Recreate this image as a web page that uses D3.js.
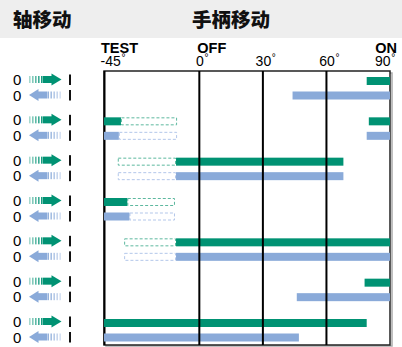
<!DOCTYPE html>
<html>
<head>
<meta charset="utf-8">
<script src="https://cdn.jsdelivr.net/npm/d3@7"></script>
<style>
  body { margin: 0; background: #fff; }
  svg { display: block; font-family: "Liberation Sans", Arial, sans-serif; }
</style>
</head>
<body>
<svg id="chart" width="402" height="347"></svg>
<script>
// rows (7 groups, each a green "up" bar and a blue "down" bar)
var rows = [0, 1, 2, 3, 4, 5, 6]
var tickValues = [-45, 0, 30, 60, 90]
var tickNames = ["TEST", "OFF", "", "", "ON"]
var headers = ["轴移动", "手柄移动"]

// solid segments in degrees: [row, from, to]
var greenSolid = [[0, 79, 90], [1, -45, -37], [1, 80, 90], [2, -11, 68], [3, -45, -34], [4, -11, 90], [5, 78, 90], [6, -45, 79]]
var blueSolid = [[0, 44, 90], [1, -45, -38], [1, 79, 90], [2, -11, 68], [3, -45, -33], [4, -11, 90], [5, 46, 90], [6, -45, 47]]
// dashed (outlined) segments
var greenDashed = [[1, -37, -10.5], [2, -38.5, -11], [3, -34, -11.5], [4, -35.5, -11]]
var blueDashed = [[1, -38, -10.5], [2, -38.5, -11], [3, -33, -11.5], [4, -35.5, -11]]

var GREEN = "#009273", BLUE = "#8aaad9"
var GREEN_L = "#5db89f", BLUE_L = "#b3c7ea"

var svg = d3.select("#chart")

var x = d3.scaleLinear().domain([-45, 90]).range([104, 390])
var y = d3.scaleLinear().domain([0, 6]).range([88.25, 330.25])
var barH = 8

// header band
svg.append("rect").attr("x", 0).attr("y", 0).attr("width", 402).attr("height", 38).attr("fill", "#eeeeee")
svg.selectAll("text.hdr").data(headers).enter().append("text")
  .attr("class", "hdr")
  .attr("x", function(d, i){ return i == 0 ? 13 : 192 })
  .attr("y", 27)
  .attr("font-family", "'Noto Sans CJK SC', sans-serif")
  .attr("font-weight", 900)
  .attr("font-size", "19.5px")
  .attr("fill", "#111")
  .text(function(d){ return d })

// frame shadow + frame
svg.append("rect").attr("x", 106).attr("y", 73).attr("width", 286).attr("height", 273).attr("fill", "none").attr("stroke", "#aaa").attr("stroke-width", 1.5)
svg.append("rect").attr("x", 104).attr("y", 71).attr("width", 286).attr("height", 274).attr("fill", "#fff").attr("stroke", "#222").attr("stroke-width", 1.5)
svg.append("line").attr("x1", 104.5).attr("x2", 104.5).attr("y1", 71).attr("y2", 345).attr("stroke", "#000").attr("stroke-width", 2)

// axis labels (degrees)
var axisG = svg.append("g").attr("transform", "translate(0,65.5)")
axisG.call(d3.axisTop(x).tickValues(tickValues).tickSize(0).tickPadding(0).tickFormat(function(d){ return d }))
axisG.select(".domain").remove()
axisG.selectAll(".tick text")
  .style("font-family", "'Liberation Sans', Arial, sans-serif")
  .style("font-size", "14px")
  .attr("fill", "#000")
  .attr("dy", 0)
axisG.selectAll(".tick").each(function(d, i){
  var t = d3.select(this).select("text")
  if(i == 0){ t.attr("text-anchor", "start").attr("x", -4) }
  if(i == tickValues.length - 1){ t.attr("text-anchor", "end").attr("x", 0) }
  var bb = t.node().getBBox()
  d3.select(this).append("text")
    .attr("x", bb.x + bb.width + 0.5)
    .attr("y", -5)
    .style("font-size", "10px")
    .attr("fill", "#000")
    .attr("text-anchor", "start")
    .text("°")
})
// shift last label so that "90°" fits
axisG.selectAll(".tick").filter(function(d){ return d == 90 }).attr("transform", "translate(" + (x(90) + 0.5) + ",0)")

svg.selectAll("text.tname").data(tickValues).enter().append("text")
  .attr("class", "tname")
  .attr("x", function(d, i){ return i == 0 ? x(d) - 3 : (i == tickValues.length - 1 ? x(d) + 7 : x(d) - 2) })
  .attr("y", 52.5)
  .attr("text-anchor", function(d, i){ return i == tickValues.length - 1 ? "end" : "start" })
  .attr("font-size", "14.5px")
  .attr("font-weight", "bold")
  .attr("fill", "#000")
  .text(function(d, i){ return tickNames[i] })

// bars
function greenY(r){ return y(r) - 11.25 }
function blueY(r){ return y(r) + 3.25 }

var barsG = svg.append("g")
barsG.selectAll("rect.gd").data(greenDashed).enter().append("rect")
  .attr("x", function(d){ return x(d[1]) + 0.5 })
  .attr("y", function(d){ return greenY(d[0]) + 0.5 })
  .attr("width", function(d){ return x(d[2]) - x(d[1]) - 1 })
  .attr("height", barH - 1)
  .attr("fill", "#fff").attr("stroke", GREEN_L).attr("stroke-width", 1).attr("stroke-dasharray", "3,2")
barsG.selectAll("rect.bd").data(blueDashed).enter().append("rect")
  .attr("x", function(d){ return x(d[1]) + 0.5 })
  .attr("y", function(d){ return blueY(d[0]) + 0.5 })
  .attr("width", function(d){ return x(d[2]) - x(d[1]) - 1 })
  .attr("height", barH - 1)
  .attr("fill", "#fff").attr("stroke", BLUE_L).attr("stroke-width", 1).attr("stroke-dasharray", "3,2")
barsG.selectAll("rect.gs").data(greenSolid).enter().append("rect")
  .attr("x", function(d){ return x(d[1]) })
  .attr("y", function(d){ return greenY(d[0]) })
  .attr("width", function(d){ return x(d[2]) - x(d[1]) })
  .attr("height", barH)
  .attr("fill", GREEN)
barsG.selectAll("rect.bs").data(blueSolid).enter().append("rect")
  .attr("x", function(d){ return x(d[1]) })
  .attr("y", function(d){ return blueY(d[0]) })
  .attr("width", function(d){ return x(d[2]) - x(d[1]) })
  .attr("height", barH)
  .attr("fill", BLUE)

// vertical reference lines at 0, 30, 60
svg.selectAll("line.ref").data([0, 30, 60]).enter().append("line")
  .attr("x1", function(d){ return x(d) }).attr("x2", function(d){ return x(d) })
  .attr("y1", 71).attr("y2", 345)
  .attr("stroke", "#000").attr("stroke-width", 2)

// left legend icons
var leg = svg.append("g")
function drawArrow(g, cy, dir, color){
  // dir 1 = right, -1 = left ; built around x 29..61
  var x0 = dir == 1 ? 29 : 61
  var stripes = [0, 3, 6, 9, 12]
  stripes.forEach(function(s, k){
    g.append("rect")
      .attr("x", dir == 1 ? x0 + s : x0 - s - 1.6)
      .attr("y", cy - 3.5).attr("width", 1.6).attr("height", 7)
      .attr("fill", color).attr("opacity", 0.35 + k * 0.14)
  })
  var shaftStart = dir == 1 ? 43 : 47
  var shaftEnd = dir == 1 ? 52 : 38
  g.append("rect")
    .attr("x", Math.min(shaftStart, shaftEnd)).attr("y", cy - 3.5)
    .attr("width", Math.abs(shaftEnd - shaftStart)).attr("height", 7)
    .attr("fill", color)
  var tip = dir == 1 ? 61.5 : 29
  var base = dir == 1 ? 51.5 : 38.5
  g.append("path")
    .attr("d", "M" + base + "," + (cy - 6) + "L" + tip + "," + cy + "L" + base + "," + (cy + 6) + "Z")
    .attr("fill", color)
}
rows.forEach(function(r){
  var gy = greenY(r) + barH / 2 - 1.5
  var by = blueY(r) + barH / 2 - 0.5
  ;[[gy, 1, GREEN], [by, -1, BLUE]].forEach(function(p){
    leg.append("text").attr("x", 13).attr("y", p[0] + 5.5).attr("font-size", "15px").attr("fill", "#000").text("0")
    drawArrow(leg, p[0], p[1], p[2])
    leg.append("rect").attr("x", 69).attr("y", p[0] - 5).attr("width", 2).attr("height", 10.5).attr("fill", "#111")
  })
})
</script>
</body>
</html>
